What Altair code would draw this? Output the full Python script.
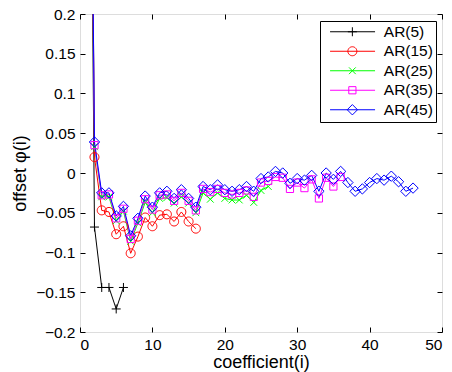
import math
import altair as alt
import pandas as pd

# ---- data ----
series_names = ["AR(5)", "AR(15)", "AR(25)", "AR(35)", "AR(45)"]

ar5 = [1.0, -0.068, -0.144, -0.144, -0.171, -0.144]
ar15 = [1.0, 0.020, -0.047, -0.049, -0.077, -0.067, -0.101, -0.080, -0.056,
        -0.067, -0.053, -0.052, -0.061, -0.049, -0.061, -0.070]
ar25 = [1.0, 0.033, -0.030, -0.030, -0.060, -0.048, -0.086, -0.063, -0.037,
        -0.050, -0.032, -0.031, -0.038, -0.030, -0.038, -0.050, -0.025, -0.033,
        -0.025, -0.032, -0.034, -0.034, -0.028, -0.037, -0.022, -0.017]
ar35 = [1.0, 0.035, -0.028, -0.027, -0.057, -0.045, -0.083, -0.060, -0.033,
        -0.046, -0.028, -0.027, -0.035, -0.025, -0.035, -0.047, -0.020, -0.024,
        -0.020, -0.025, -0.027, -0.025, -0.022, -0.030, -0.012, -0.010, -0.005,
        -0.006, -0.020, -0.012, -0.019, -0.008, -0.032, -0.006, -0.017, -0.005]
ar45 = [1.0, 0.039, -0.025, -0.025, -0.054, -0.042, -0.079, -0.057, -0.029,
        -0.043, -0.025, -0.023, -0.032, -0.021, -0.032, -0.043, -0.017, -0.021,
        -0.015, -0.021, -0.023, -0.021, -0.017, -0.023, -0.007, -0.005, 0.002,
        0.000, -0.013, -0.007, -0.009, -0.003, -0.023, 0.000, -0.008, 0.002,
        -0.012, -0.023, -0.020, -0.012, -0.007, -0.009, -0.004, -0.011, -0.023,
        -0.019]

x_ticks = [0, 10, 20, 30, 40, 50]
y_ticks = [-0.2, -0.15, -0.1, -0.05, 0, 0.05, 0.1, 0.15, 0.2]

# ---- styles ----
colors = ["#000000", "#ff0000", "#00ff00", "#ff00ff", "#0000ff"]
marker_kinds = ["plus", "circle", "x", "square", "diamond"]
FONT = "Liberation Sans"


def marker_path(kind, cx=0.0):
    def p(x, y):
        return f"{x + cx:.3f},{y:.3f}"
    if kind == "plus":
        return f"M{p(-1, 0)}L{p(1, 0)}M{p(0, -1)}L{p(0, 1)}"
    if kind == "x":
        a = 0.75
        return f"M{p(-a, -a)}L{p(a, a)}M{p(-a, a)}L{p(a, -a)}"
    if kind == "square":
        a = 0.8
        return f"M{p(-a, -a)}L{p(a, -a)}L{p(a, a)}L{p(-a, a)}Z"
    if kind == "diamond":
        a = 1.15
        return f"M{p(0, -a)}L{p(a, 0)}L{p(0, a)}L{p(-a, 0)}Z"
    pts = [p(math.cos(2 * math.pi * k / 28), math.sin(2 * math.pi * k / 28)) for k in range(28)]
    return "M" + "L".join(pts) + "Z"


point_shapes = [marker_path(k) for k in marker_kinds]
LINE_L, LINE_R, MARK_C = -1.0, 9.0, 3.96
legend_shapes = [f"M{LINE_L},0L{LINE_R},0" + marker_path(k, MARK_C) for k in marker_kinds]

rows = []
for name, vals in zip(series_names, [ar5, ar15, ar25, ar35, ar45]):
    for i, v in enumerate(vals, start=1):
        rows.append({"series": name, "i": i, "phi": v})
df = pd.DataFrame(rows)

xscale = alt.Scale(domain=[0, 50], nice=False, zero=False)
yscale = alt.Scale(domain=[-0.2, 0.2], nice=False, zero=False)


def cscale():
    return alt.Scale(domain=series_names, range=colors)


common_axis = dict(domain=False, grid=False, ticks=True, tickSize=5, offset=-5,
                   tickColor="black", tickWidth=1,
                   labelFont=FONT, labelFontSize=15.5, labelColor="black",
                   titleFont=FONT, titleFontSize=18, titleFontWeight="normal",
                   titleColor="black")

lines = alt.Chart(df).mark_line(strokeWidth=1, clip=True).encode(
    x=alt.X("i:Q", scale=xscale,
            axis=alt.Axis(orient="bottom", values=x_ticks, format="d",
                          title="coefficient(i)", labelPadding=5,
                          titleY=40, titleBaseline="alphabetic",
                          **common_axis)),
    y=alt.Y("phi:Q", scale=yscale,
            axis=alt.Axis(orient="left", values=y_ticks, format=".2~f",
                          title="offset φ(i)", labelPadding=5, titlePadding=6,
                          **common_axis)),
    color=alt.Color("series:N", scale=cscale(), legend=None),
    detail="series:N",
)

points = alt.Chart(df).mark_point(filled=False, size=81, strokeWidth=1, opacity=1,
                                  clip=True).encode(
    x=alt.X("i:Q", scale=xscale,
            axis=alt.Axis(orient="top", values=x_ticks, labels=False, title=None,
                          **common_axis)),
    y=alt.Y("phi:Q", scale=yscale,
            axis=alt.Axis(orient="right", values=y_ticks, labels=False, title=None,
                          **common_axis)),
    color=alt.Color("series:N", scale=cscale(), legend=None),
    shape=alt.Shape("series:N", scale=alt.Scale(domain=series_names, range=point_shapes),
                    legend=None),
)

legend_spec = dict(title=None, orient="none", legendX=240, legendY=7,
                   strokeColor="black", fillColor="white", padding=3,
                   symbolOffset=3.8, symbolSize=81, symbolStrokeWidth=1,
                   labelOffset=41.5, labelFont=FONT, labelFontSize=15.5,
                   labelColor="black", rowPadding=2.5,
                   symbolFillColor="transparent")

legend_layer = alt.Chart(df).transform_filter("datum.i < 0").mark_point(
    filled=False, size=81, strokeWidth=1, opacity=1).encode(
    color=alt.Color("series:N", scale=cscale(), legend=alt.Legend(**legend_spec)),
    shape=alt.Shape("series:N", scale=alt.Scale(domain=series_names, range=legend_shapes),
                    legend=alt.Legend(**legend_spec)),
)

chart = alt.layer(lines, points, legend_layer).resolve_axis(
    x="independent", y="independent"
).resolve_scale(color="independent", shape="independent").properties(
    width=362, height=318,
    autosize=alt.AutoSizeParams(type="none"),
    padding={"left": 72, "top": 6, "right": 2, "bottom": 40},
).configure_view(stroke="black", strokeWidth=1).configure(background="white")

chart.save("out.html", embed_options={"renderer": "svg", "actions": False})
